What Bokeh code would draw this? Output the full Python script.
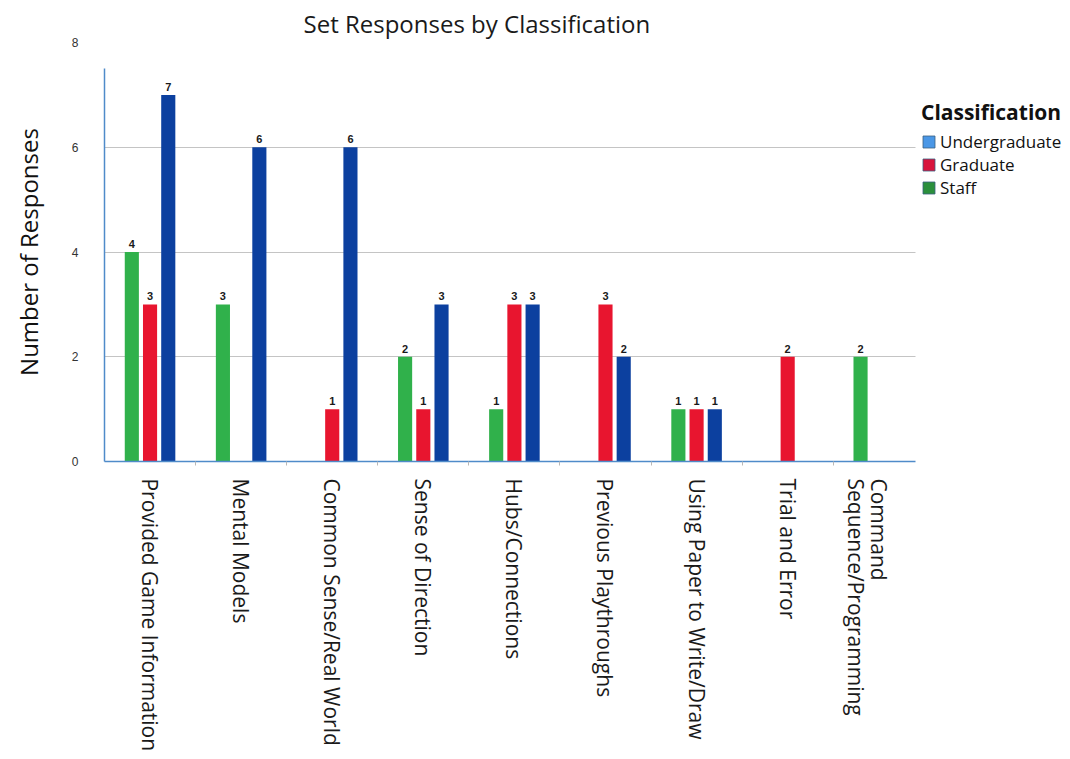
import math
from bokeh.plotting import figure
from bokeh.models import (ColumnDataSource, Range1d, FixedTicker, LinearAxis,
                          Legend, LegendItem)
from bokeh.core.properties import value
from bokeh.embed import file_html
from bokeh.resources import INLINE

categories = ["Provided Game Information", "Mental Models", "Common Sense/Real World",
              "Sense of Direction", "Hubs/Connections", "Previous Playthroughs",
              "Using Paper to Write/Draw", "Trial and Error", "Command\nSequence/Programming"]
staff = [4, 3, 0, 2, 1, 0, 1, 0, 2]
graduate = [3, 0, 1, 1, 3, 3, 1, 2, 0]
undergraduate = [7, 6, 6, 3, 3, 2, 1, 0, 0]
series_names = ["Undergraduate", "Graduate", "Staff"]
y_ticks = [0, 2, 4, 6, 8]
grid_ticks = [2, 4, 6]

bar_colors = {"Staff": "#30b14b", "Graduate": "#e8152f", "Undergraduate": "#0c409f"}
legend_colors = {"Undergraduate": "#4a97e6", "Graduate": "#d8143c", "Staff": "#2b8f3c"}
offsets = {"Staff": -0.2, "Graduate": 0.0, "Undergraduate": 0.2}
values_by_series = {"Staff": staff, "Graduate": graduate, "Undergraduate": undergraduate}

idx = list(range(len(categories)))
x_lo, x_hi = -0.5, len(categories) - 0.6   # extent of the drawn axis / grid

p = figure(width=1070, height=759, output_backend="svg", toolbar_location=None,
           x_range=Range1d(x_lo, x_hi + 1.65), y_range=Range1d(0, 8),
           min_border_left=104, min_border_right=5, min_border_top=42,
           min_border_bottom=298)
p.outline_line_color = None
p.background_fill_color = "white"

p.title.text = "Set Responses by Classification"
p.title.text_font = "Open Sans"
p.title.text_font_size = "24px"
p.title.text_font_style = "normal"
p.title.text_color = "#1a1a1a"
p.title.align = "left"
p.title.offset = 199
p.title.standoff = 6

for name in ["Staff", "Graduate", "Undergraduate"]:
    vals = values_by_series[name]
    xs = [i + offsets[name] for i, v in zip(idx, vals) if v > 0]
    tops = [v for v in vals if v > 0]
    src = ColumnDataSource(dict(x=xs, top=tops, lab=[str(v) for v in tops]))
    p.vbar(x="x", top="top", bottom=0, width=0.155, source=src,
           fill_color=bar_colors[name], line_color=None)
    p.text(x="x", y="top", text="lab", source=src, text_align="center",
           text_baseline="bottom", y_offset=-4, text_font=value("Liberation Sans"),
           text_font_size="11px", text_font_style="bold", text_color="#1a1a1a")

# axes
axis_blue = "#4f8bc9"
xa = p.xaxis[0]
xa.bounds = (x_lo, x_hi)
xa.ticker = FixedTicker(ticks=idx, minor_ticks=[i + 0.5 for i in idx[:-1]])
# a leading blank line on wrapped labels shifts them left like the reference
xa.major_label_overrides = {i: ("\n" + c if "\n" in c else c) for i, c in zip(idx, categories)}
xa.major_label_orientation = -math.pi / 2
xa.major_label_text_font = "Open Sans"
xa.major_label_text_font_size = "21px"
xa.major_label_text_line_height = 0.8
xa.major_label_text_color = "#1a1a1a"
xa.major_label_standoff = 13
xa.major_tick_line_color = None
xa.major_tick_out = 0
xa.major_tick_in = 0
xa.minor_tick_line_color = "#b8b8b8"
xa.minor_tick_out = 4
xa.minor_tick_in = 0
xa.axis_line_color = axis_blue
xa.axis_line_width = 1.5

ya = p.yaxis[0]
ya.ticker = FixedTicker(ticks=[])
ya.bounds = (0, 7.5)
ya.axis_line_color = axis_blue
ya.axis_line_width = 1.5
ya.major_tick_line_color = None
ya.minor_tick_line_color = None

yb = LinearAxis(ticker=FixedTicker(ticks=y_ticks))
yb.axis_line_color = None
yb.major_tick_line_color = None
yb.minor_tick_line_color = None
yb.major_label_text_font = "Liberation Sans"
yb.major_label_text_font_size = "12px"
yb.major_label_text_color = "#333333"
yb.major_label_standoff = 20
yb.axis_label = "Number of Responses"
yb.axis_label_text_font = "Open Sans"
yb.axis_label_text_font_size = "24px"
yb.axis_label_text_font_style = "normal"
yb.axis_label_text_color = "#111111"
yb.axis_label_standoff = 24
p.add_layout(yb, "left")

p.xgrid.grid_line_color = None
p.ygrid.ticker = FixedTicker(ticks=grid_ticks)
p.ygrid.cross_bounds = (x_lo, x_hi)
p.ygrid.grid_line_color = "#c4c4c4"
p.ygrid.grid_line_width = 1

# legend (swatch colours as in the reference legend)
items = []
for name in series_names:
    r = p.vbar(x=[float("nan")], top=[float("nan")], width=0.1,
               fill_color=legend_colors[name], line_color="#3a5f80", line_width=0.8)
    items.append(LegendItem(label=name, renderers=[r]))
legend = Legend(items=items, title="Classification", location=(817, 262))
legend.title_text_font = "Open Sans"
legend.title_text_font_size = "21px"
legend.title_text_font_style = "bold"
legend.title_text_color = "#111111"
legend.title_standoff = 4
legend.label_text_font = "Open Sans"
legend.label_text_font_size = "17px"
legend.label_text_line_height = 0.9
legend.label_text_color = "#111111"
legend.glyph_width = 15
legend.glyph_height = 15
legend.label_height = 15
legend.label_standoff = 4
legend.spacing = 0
legend.padding = 0
legend.margin = 0
legend.border_line_color = None
legend.background_fill_color = None
p.add_layout(legend, "center")

open("out.html", "w").write(file_html(p, INLINE))
